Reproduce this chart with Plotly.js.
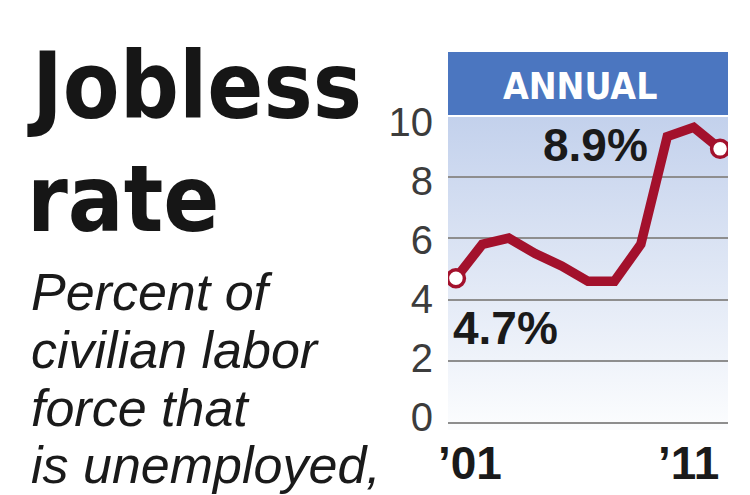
<!DOCTYPE html>
<html>
<head>
<meta charset="utf-8">
<script src="https://cdn.plot.ly/plotly-3.0.1.min.js"></script>
<style>html,body{margin:0;padding:0;background:#fff;}#chart{width:750px;height:495px;}</style>
</head>
<body>
<div id="chart"></div>
<script>
// ---- data ----
const years = [2001, 2002, 2003, 2004, 2005, 2006, 2007, 2008, 2009, 2010, 2011];
const rates = [4.7, 5.8, 6.0, 5.5, 5.1, 4.6, 4.6, 5.8, 9.3, 9.6, 8.9];
const yTickVals = [0, 2, 4, 6, 8, 10];
const yTickText = ["0", "2", "4", "6", "8", "10"];
const xLabelYears = [2001, 2011];
const xLabelText = ["\u201901", "\u201911"];
const headlineLines = ["Jobless", "rate"];
const subtitleLines = ["Percent of", "civilian labor", "force that", "is unemployed,"];
const panelLabel = "ANNUAL";

// ---- geometry helpers ----
const W = 750, H = 495;
const M = {l: 448, r: 22, t: 115, b: 65};
const PW = W - M.l - M.r, PH = H - M.t - M.b;
const px = p => (p - M.l) / PW;          // pixel x -> paper x
const py = p => (H - M.b - p) / PH;       // pixel y -> paper y

const RED = "#a3112c";
const NARROW = "DejaVu Sans Condensed, Liberation Sans Narrow, sans-serif";
const SANS = "Liberation Sans, Arial, sans-serif";

const first = 0, last = years.length - 1;

const traces = [
  {
    x: years, y: rates, type: "scatter", mode: "lines",
    line: {color: RED, width: 9.5, shape: "linear"},
    hoverinfo: "skip", showlegend: false
  },
  {
    x: [years[first], years[last]], y: [rates[first], rates[last]],
    type: "scatter", mode: "markers",
    marker: {size: 17, color: "#ffffff", line: {color: RED, width: 3.5}},
    hoverinfo: "skip", showlegend: false
  },
  // invisible helper so the label axis (y2) is drawn
  {
    x: [years[first]], y: [rates[first]], yaxis: "y2", type: "scatter", mode: "markers",
    marker: {size: 1, opacity: 0}, hoverinfo: "skip", showlegend: false
  }
];

const grad = "data:image/svg+xml;utf8," + encodeURIComponent(
  '<svg xmlns="http://www.w3.org/2000/svg" width="10" height="100" preserveAspectRatio="none">' +
  '<defs><linearGradient id="g" x1="0" y1="0" x2="0" y2="1">' +
  '<stop offset="0" stop-color="#c3d1ec"/><stop offset="1" stop-color="#fcfdfe"/>' +
  '</linearGradient></defs><rect width="10" height="100" fill="url(#g)"/></svg>');

const annotations = [];
// headline
const headMid = [86, 199];
headlineLines.forEach((t, i) => annotations.push({
  text: t, xref: "paper", yref: "paper", x: px(25), y: py(headMid[i]),
  xanchor: "left", yanchor: "middle", showarrow: false,
  font: {family: NARROW, size: 92, color: "#161616", weight: 700}
}));
// subtitle
const subMid = [292, 350, 408, 465];
subtitleLines.forEach((t, i) => annotations.push({
  text: t, xref: "paper", yref: "paper", x: px(29), y: py(subMid[i]),
  xanchor: "left", yanchor: "middle", showarrow: false,
  font: {family: SANS, size: 52, color: "#1a1a1a", style: "italic"}
}));
// panel label
annotations.push({
  text: panelLabel, xref: "paper", yref: "paper", x: px(580), y: py(86),
  xanchor: "center", yanchor: "middle", showarrow: false,
  font: {family: NARROW, size: 37, color: "#ffffff", weight: 700}
});
// x labels
annotations.push({
  text: xLabelText[0], xref: "x", yref: "paper", x: xLabelYears[0], y: 0,
  xanchor: "left", yanchor: "middle", xshift: -20, yshift: -33, showarrow: false,
  font: {family: SANS, size: 46, color: "#1a1a1a", weight: 700}
});
annotations.push({
  text: xLabelText[1], xref: "x", yref: "paper", x: xLabelYears[1], y: 0,
  xanchor: "right", yanchor: "middle", xshift: 1, yshift: -33, showarrow: false,
  font: {family: SANS, size: 46, color: "#1a1a1a", weight: 700}
});
// value callouts
annotations.push({
  text: rates[last].toFixed(1) + "%", xref: "x", yref: "y", x: years[last], y: rates[last],
  xanchor: "right", yanchor: "middle", xshift: -70, yshift: 4, showarrow: false,
  font: {family: SANS, size: 46, color: "#1a1a1a", weight: 700}
});
annotations.push({
  text: rates[first].toFixed(1) + "%", xref: "x", yref: "y", x: years[first], y: rates[first],
  xanchor: "left", yanchor: "middle", xshift: -5, yshift: -50, showarrow: false,
  font: {family: SANS, size: 46, color: "#1a1a1a", weight: 700}
});

const layout = {
  width: W, height: H,
  margin: M,
  paper_bgcolor: "#ffffff",
  plot_bgcolor: "rgba(0,0,0,0)",
  showlegend: false,
  xaxis: {
    range: [2000.7, 2011.3], showgrid: false, zeroline: false,
    showticklabels: false, showline: false, ticks: "", fixedrange: true
  },
  yaxis: {
    range: [-0.23, 10], tickvals: yTickVals.slice(0, -1),
    showgrid: true, gridcolor: "#8e8e8e", gridwidth: 2,
    zeroline: false, showline: false, ticks: "", showticklabels: false,
    fixedrange: true
  },
  // label axis: the printed scale labels sit slightly tighter than the grid
  yaxis2: {
    overlaying: "y", side: "left", range: [-0.44, 10.24],
    tickvals: yTickVals, ticktext: yTickText,
    showgrid: false, zeroline: false, showline: false, ticks: "",
    ticklabelstandoff: 14,
    tickfont: {family: SANS, size: 40, color: "#3c3c3c"},
    fixedrange: true
  },
  images: [{
    source: grad, xref: "paper", yref: "paper", x: 0, y: py(117), sizex: 1, sizey: py(117),
    xanchor: "left", yanchor: "top", sizing: "stretch", layer: "below"
  }],
  shapes: [{
    type: "rect", xref: "paper", yref: "paper",
    x0: 0, x1: 1, y0: py(115), y1: py(52),
    fillcolor: "#4b76c0", line: {width: 0}, layer: "above"
  }],
  annotations: annotations
};

Plotly.newPlot("chart", traces, layout, {displayModeBar: false, staticPlot: true});
</script>
</body>
</html>
